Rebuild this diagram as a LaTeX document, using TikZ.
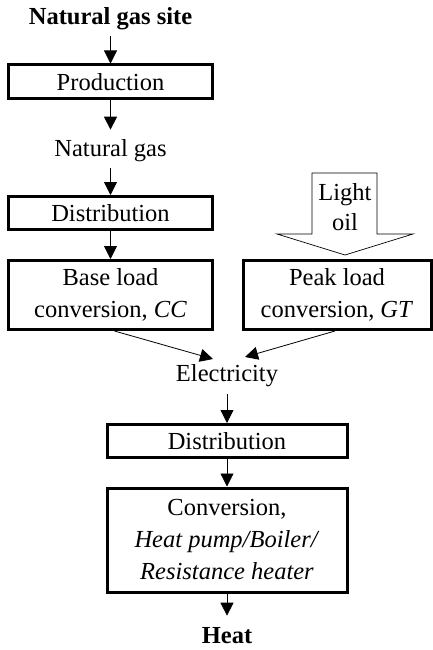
\documentclass[tikz,border=0pt]{standalone}
\usepackage{fontspec}
\setmainfont{Liberation Serif}
\usetikzlibrary{arrows.meta,calc}
\begin{document}
\begin{tikzpicture}[x=1pt,y=-1pt,
  every node/.style={font=\fontsize{24.5}{32}\selectfont},
  box/.style={draw,line width=3pt,inner sep=0pt,align=center},
  txt/.style={inner sep=0pt,align=center},
  arr/.style={line width=0.8pt,-{Triangle[length=13pt,width=13pt]}},
  bigarr/.style={draw,line width=0.7pt,fill=white}]
\useasboundingbox (0,0) rectangle (433,650);
% nodes
\node[txt,font=\fontsize{24.5}{32}\selectfont\bfseries] (site) at (110.5,19) {Natural gas site};
\node[box,minimum width=204pt,minimum height=34pt] (prod) at (110.5,82) {Production};
\node[txt] (ng) at (110.5,151) {Natural gas};
\node[box,minimum width=204pt,minimum height=33pt] (dist1) at (110.5,213) {Distribution};
\node[box,minimum width=204pt,minimum height=69pt] (base) at (110.5,295) {Base load\\conversion, \textit{CC}};
\node[box,minimum width=188pt,minimum height=69pt] (peak) at (337,295) {Peak load\\conversion, \textit{GT}};
\node[txt] (elec) at (227,376) {Electricity};
\node[box,minimum width=240pt,minimum height=33pt] (dist2) at (227,441) {Distribution};
\node[box,minimum width=240pt,minimum height=104pt] (conv) at (227,540) {Conversion,\\\textit{Heat pump/Boiler/}\\\textit{Resistance heater}};
\node[txt,font=\fontsize{24.5}{32}\selectfont\bfseries] (heat) at (227,636) {Heat};
% light oil arrow
\draw[bigarr] (312,173) -- (377,173) -- (377,234) -- (413,234) -- (345,255) -- (277,234) -- (312,234) -- cycle;
\node[txt,font=\fontsize{24.5}{30}\selectfont] (oil) at (345,207) {Light\\oil};
% connectors
\draw[arr] ($(prod.north|-site.south)+(0,6)$) -- (prod.north);
\draw[arr] (prod.south) -- ($(prod.south|-ng.north)+(0,-10)$);
\draw[arr] ($(dist1.north|-ng.south)+(0,6)$) -- (dist1.north);
\draw[arr] (dist1.south) -- (base.north);
\draw[arr] ($(base.south)+(4,0)$) -- ($(elec.center)+(-14,-17)$);
\draw[arr] ($(peak.south)+(-2,0)$) -- ($(elec.center)+(18,-19)$);
\draw[arr] ($(dist2.north|-elec.south)+(0,7)$) -- (dist2.north);
\draw[arr] (dist2.south) -- (conv.north);
\draw[arr] (conv.south) -- ($(conv.south|-heat.north)+(0,-12)$);
\end{tikzpicture}
\end{document}
